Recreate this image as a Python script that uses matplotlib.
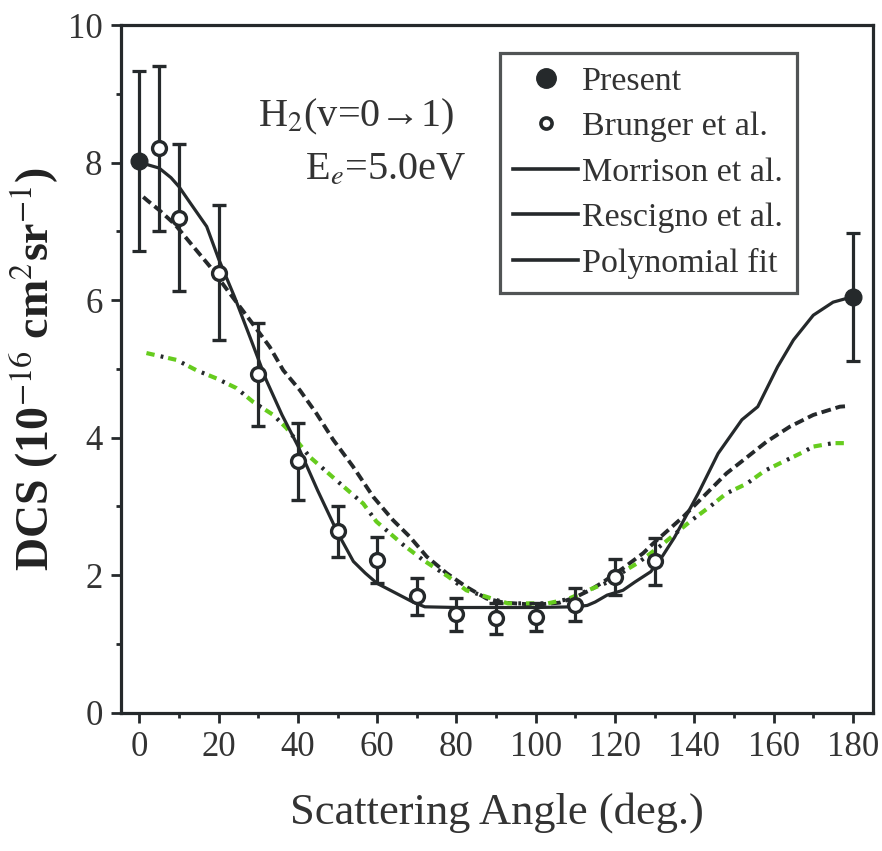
import matplotlib
matplotlib.use('Agg')
import matplotlib.pyplot as plt
from matplotlib.lines import Line2D

plt.rcParams['font.family'] = ['Liberation Serif', 'DejaVu Serif']
plt.rcParams['mathtext.fontset'] = 'stix'
plt.rcParams['lines.scale_dashes'] = False

ink = '#25292b'
green = '#66cc1e'

# present measurements
present_ang = [0, 180]
present_dcs = [8.02, 6.05]
present_err = [1.31, 0.93]

# Brunger et al.
brunger_ang = [5, 10, 20, 30, 40, 50, 60, 70, 80, 90, 100, 110, 120, 130]
brunger_dcs = [8.21, 7.20, 6.40, 4.92, 3.66, 2.64, 2.22, 1.69, 1.43, 1.37, 1.39, 1.57, 1.97, 2.20]
brunger_err = [1.20, 1.07, 0.98, 0.75, 0.56, 0.37, 0.33, 0.27, 0.24, 0.23, 0.20, 0.24, 0.26, 0.34]

# Morrison et al. (dashed)
morr_ang = [1, 2, 5, 9, 13.6, 17.8, 22.8, 27.9, 32.9, 36.3, 40.5, 44.7, 48.9, 53.9, 59, 64,
            68.2, 72.5, 77.5, 82.5, 87.6, 92, 100, 106, 110, 113.6, 117, 122, 127.1, 129.6,
            137.2, 143.1, 148.1, 152.3, 158.2, 164.1, 170, 176.7, 179]
morr_dcs = [7.50, 7.45, 7.31, 7.10, 6.78, 6.49, 6.10, 5.71, 5.32, 4.98, 4.69, 4.35, 3.97, 3.58,
            3.14, 2.80, 2.56, 2.27, 2.03, 1.83, 1.66, 1.60, 1.57, 1.60, 1.68, 1.78, 1.90, 2.10,
            2.32, 2.46, 2.85, 3.19, 3.48, 3.67, 3.94, 4.16, 4.33, 4.45, 4.46]

# Rescigno et al. (green / black dash-dot)
resc_ang = [1.8, 9.4, 14.4, 19.5, 24.5, 28.7, 33.8, 37.1, 43, 49.7, 56.5, 59.8, 66.6, 71.6,
            77.9, 82.5, 90, 93, 103, 108, 113.2, 118.3, 122.9, 125.8, 132, 138.9, 144, 148.1,
            153.2, 157.8, 162.4, 167.1, 170, 175, 179.2]
resc_dcs = [5.23, 5.13, 4.98, 4.86, 4.72, 4.52, 4.33, 4.14, 3.72, 3.38, 3.04, 2.78, 2.44, 2.22,
            1.98, 1.78, 1.64, 1.59, 1.59, 1.65, 1.78, 1.90, 2.08, 2.18, 2.45, 2.78, 3.00, 3.19,
            3.33, 3.52, 3.65, 3.78, 3.87, 3.92, 3.92]

# polynomial fit (solid)
fit_ang = [0, 2, 5, 8, 10, 13, 17, 20, 24, 28, 32, 36, 40, 45, 50, 54, 57, 60, 64, 69, 72,
           80, 90, 100, 110, 113, 115, 118, 122, 125, 129, 132, 135, 141, 146, 152, 156, 161,
           165, 170, 175, 180]
fit_dcs = [8.02, 7.97, 7.92, 7.78, 7.65, 7.40, 7.07, 6.60, 6.05, 5.45, 4.84, 4.33, 3.88, 3.23,
           2.62, 2.20, 2.03, 1.88, 1.76, 1.61, 1.54, 1.53, 1.53, 1.53, 1.54, 1.56, 1.61, 1.71,
           1.78, 1.90, 2.05, 2.28, 2.55, 3.19, 3.77, 4.26, 4.45, 5.03, 5.42, 5.78, 5.97, 6.05]

fig = plt.figure(figsize=(8.82, 8.51), dpi=100)
ax = fig.add_axes([0.1368, 0.1625, 0.8527, 0.8081])

ax.plot(morr_ang, morr_dcs, color=ink, lw=2.8, linestyle=(0, (7, 3.5)))
ax.plot(resc_ang, resc_dcs, color=green, lw=3, linestyle=(0, (6, 10)))
ax.plot(resc_ang, resc_dcs, color=ink, lw=3, linestyle=(5.5, (2, 14)))
ax.plot(fit_ang, fit_dcs, color=ink, lw=2.3)

ax.errorbar(brunger_ang, brunger_dcs, yerr=brunger_err, fmt='o', ms=10, mfc='white',
            mec=ink, mew=2.4, ecolor=ink, elinewidth=2.3, capsize=5, capthick=2.3, zorder=4)
ax.errorbar(present_ang, present_dcs, yerr=present_err, fmt='o', ms=12, color=ink,
            ecolor=ink, elinewidth=2.3, capsize=5, capthick=2.3, zorder=5)

ax.set_xlim(-4.7, 185)
ax.set_ylim(0, 10)
ax.set_xticks(range(0, 181, 20))
ax.set_xticks(range(10, 181, 20), minor=True)
ax.set_yticks(range(0, 11, 2))
ax.set_yticks(range(1, 10, 2), minor=True)
ax.tick_params(which='major', direction='out', length=7, width=2, labelsize=25, pad=6,
               colors=ink, labelcolor='#333333')
ax.tick_params(which='minor', direction='out', length=3.5, width=2, colors=ink)
for s in ax.spines.values():
    s.set_linewidth(2.3)
    s.set_color(ink)

ax.set_xlabel('Scattering Angle (deg.)', fontsize=32, color='#333333', labelpad=20)
ax.set_ylabel(r'DCS (10$^{-16}$ cm$^{2}$sr$^{-1}$)', fontsize=33, fontweight='bold',
              color='#222222', labelpad=4)

ax.text(0.313, 0.866, r'H$_2$(v=0→1)', transform=ax.transAxes, fontsize=29,
        ha='center', va='center', color='#333333')
ax.text(0.352, 0.789, r'E$_e$=5.0eV', transform=ax.transAxes, fontsize=29,
        ha='center', va='center', color='#333333')

handles = [
    Line2D([], [], marker='o', ls='none', ms=14, color=ink),
    Line2D([], [], marker='o', ls='none', ms=8, mfc='white', mec=ink, mew=2.6),
    Line2D([], [], color=ink, lw=2.6),
    Line2D([], [], color=ink, lw=2.6),
    Line2D([], [], color=ink, lw=2.6),
]
labels = ['Present', 'Brunger et al.', 'Morrison et al.', 'Rescigno et al.', 'Polynomial fit']
leg = ax.legend(handles, labels, loc='upper left', bbox_to_anchor=(0.504, 0.96),
                borderaxespad=0, fontsize=24.5, frameon=True, fancybox=False,
                handlelength=1.9, handletextpad=0.12, labelspacing=0.43,
                borderpad=0.4, labelcolor='#333333')
leg.get_frame().set_edgecolor(ink)
leg.get_frame().set_linewidth(2.3)

fig.savefig('out.png', dpi=100)
